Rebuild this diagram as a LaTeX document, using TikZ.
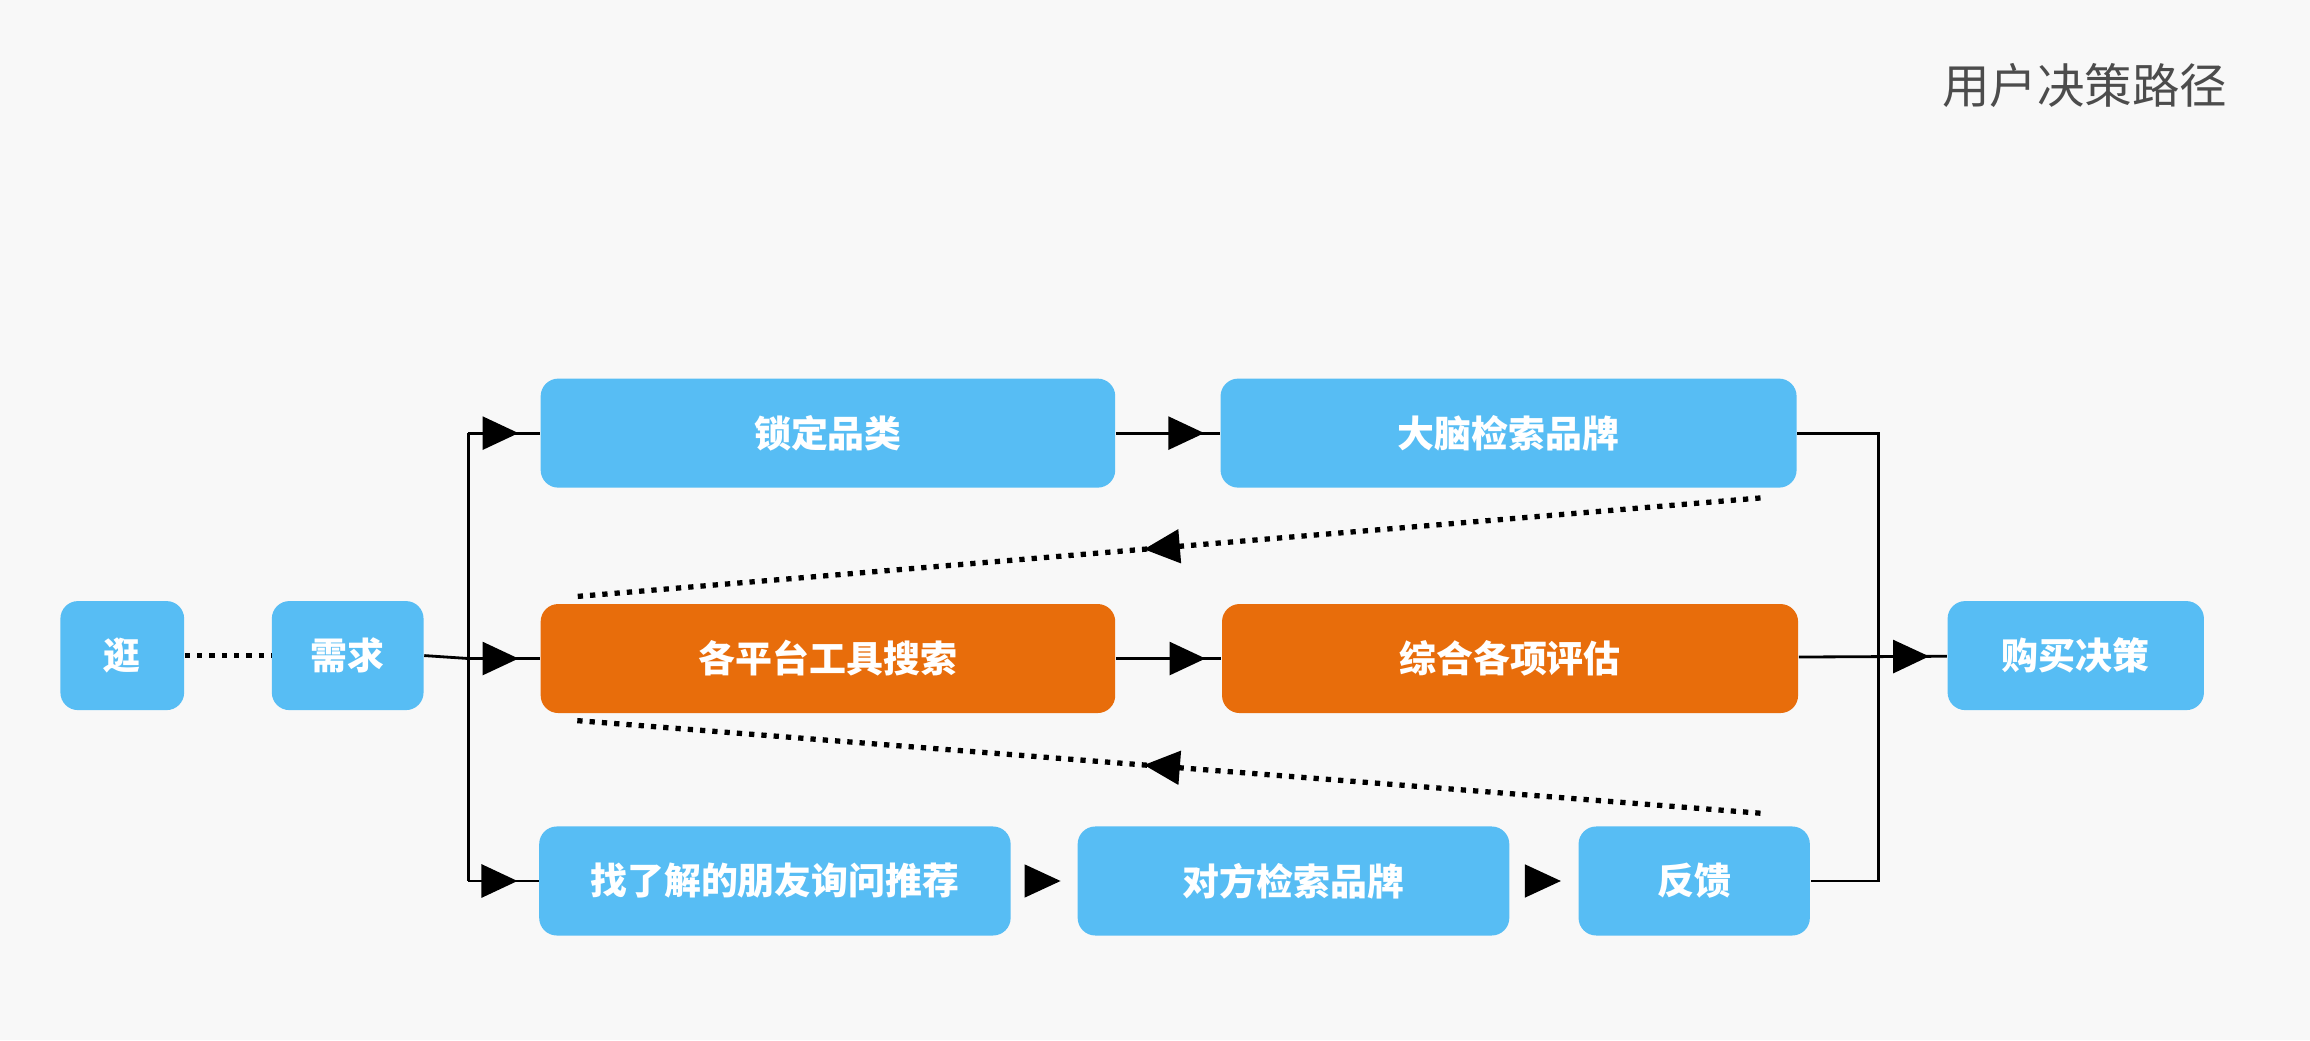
\documentclass[tikz,border=0pt]{standalone}
\usepackage{fontspec}
\setmainfont{Noto Sans CJK SC}
\usetikzlibrary{arrows.meta,decorations.markings}
\definecolor{boxblue}{HTML}{57BDF4}
\definecolor{boxorange}{HTML}{E86D0B}
\definecolor{bgray}{HTML}{F8F8F8}
\def\px{0.01473cm}
\tikzset{
  box/.style={draw=none, fill=boxblue, rounded corners=5pt, text=white,
    font=\fontsize{10.5}{12}\selectfont\bfseries, minimum height=74*\px, inner sep=0pt},
  hot/.style={box, fill=boxorange},
  mid arrow/.style={postaction={decorate}, decoration={markings,
    mark=at position #1 with {\arrow{Triangle[length=0.36cm,width=0.33cm]}}}},
  link/.style={draw, line width=0.8pt},
}
\begin{document}
\begin{tikzpicture}[x=\px, y=-\px]
\fill[bgray] (0,0) rectangle (1568,706);
\useasboundingbox (0,0) rectangle (1568,706);
\node[text=black!70, font=\fontsize{13.5}{15}\selectfont] (title) at (1415,58) {用户决策路径};

% nodes
\node[box, minimum width=84*\px] (stroll) at (83,445) {逛};
\node[box, minimum width=103*\px] (need) at (236,445) {需求};
\node[box, minimum width=390*\px] (lock) at (562,294) {锁定品类};
\node[box, minimum width=391*\px] (brain) at (1024,294) {大脑检索品牌};
\node[hot, minimum width=390*\px] (search) at (562,447) {各平台工具搜索};
\node[hot, minimum width=391*\px] (eval) at (1025,447) {综合各项评估};
\node[box, minimum width=174*\px] (buy) at (1409,445) {购买决策};
\node[box, minimum width=320*\px] (friend) at (526,598) {找了解的朋友询问推荐};
\node[box, minimum width=293*\px] (other) at (878,598) {对方检索品牌};
\node[box, minimum width=157*\px] (back) at (1150,598) {反馈};

\coordinate (split) at (318,447);
\coordinate (sTop) at (318,294);
\coordinate (sBot) at (318,598);
\coordinate (jTop) at (1275,294);
\coordinate (jBot) at (1275,598);
\coordinate (d1a) at (1195,338);
\coordinate (d1b) at (390,405);
\coordinate (d2a) at (1195,552);
\coordinate (d2b) at (390,489);

% connectors
\draw[line width=1.5pt, dotted] (stroll) -- (need);
\path[link] (need.east) -- (split);
\path[link] (sTop) -- (sBot);
\path[link, mid arrow=0.7] (sTop) -- (lock.west);
\path[link, mid arrow=0.7] (split) -- (search.west);
\path[link, mid arrow=0.7] (sBot) -- (friend.west);
\path[link, mid arrow=0.85] (lock) -- (brain);
\path[link, mid arrow=0.85] (search) -- (eval);
\path[mid arrow=0.75] (friend) -- (other);
\path[mid arrow=0.75] (other) -- (back);
\path[link] (brain.east) -- (jTop) -- (jBot) -- (back.east);
\path[link, mid arrow=0.88] (eval) -- (buy);
\path[draw, line width=1.5pt, dotted, mid arrow=0.52] (d1a) -- (d1b);
\path[draw, line width=1.5pt, dotted, mid arrow=0.52] (d2a) -- (d2b);
\end{tikzpicture}
\end{document}
